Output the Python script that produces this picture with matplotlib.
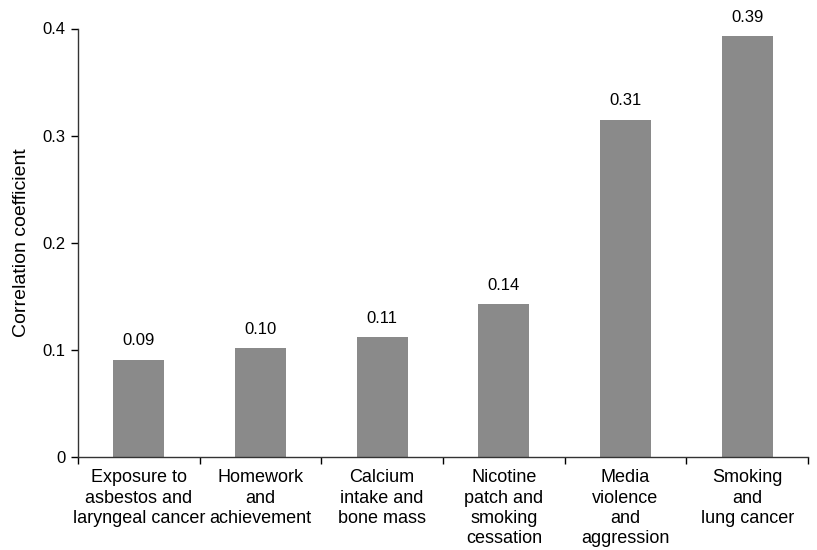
import numpy as np
import matplotlib.pyplot as plt

plt.rcParams["font.family"] = ["Liberation Sans", "DejaVu Sans"]
plt.rcParams["font.size"] = 12

kategorie = [
    "Exposure to\nasbestos and\nlaryngeal cancer",
    "Homework\nand\nachievement",
    "Calcium\nintake and\nbone mass",
    "Nicotine\npatch and\nsmoking\ncessation",
    "Media\nviolence\nand\naggression",
    "Smoking\nand\nlung cancer",
]
wartosci = [0.091, 0.102, 0.112, 0.143, 0.315, 0.393]
etykiety = ["0.09", "0.10", "0.11", "0.14", "0.31", "0.39"]
yticki = [0, 0.1, 0.2, 0.3, 0.4]
ytick_etykiety = ["0", "0.1", "0.2", "0.3", "0.4"]

fig = plt.figure(figsize=(8.17, 5.5), dpi=100)
ax = fig.add_axes([78 / 817, 1 - 457 / 550, (808 - 78) / 817, (457 - 28.5) / 550])

x = np.arange(len(kategorie))
slupki = ax.bar(x, wartosci, width=0.42, color="#8a8a8a", edgecolor="none", zorder=2)

for xi, h, lab in zip(x, wartosci, etykiety):
    ax.annotate(lab, (xi, h), xytext=(0, 8), textcoords="offset points",
                ha="center", va="bottom", fontsize=12, annotation_clip=False)

ax.set_xlim(-0.5, len(kategorie) - 0.5)
ax.set_ylim(0, 0.4)

ax.set_yticks(yticki)
ax.set_yticklabels(ytick_etykiety)
ax.set_ylabel("Correlation coefficient", fontsize=14, labelpad=9)

# separator ticks between categories, labels centered in each category
ax.set_xticks(np.arange(len(kategorie) + 1) - 0.5)
ax.set_xticklabels([])
ax.set_xticks(x, minor=True)
ax.set_xticklabels(kategorie, minor=True, multialignment="center", fontsize=13,
                   linespacing=1.24)
ax.tick_params(axis="x", which="minor", length=0, pad=9)
ax.tick_params(axis="x", which="major", length=5, width=1, direction="out")
ax.tick_params(axis="y", length=5, width=1, direction="out", pad=4)

for s in ["top", "right"]:
    ax.spines[s].set_visible(False)
for s in ["left", "bottom"]:
    ax.spines[s].set_color("#333333")
    ax.spines[s].set_linewidth(1)

fig.savefig("out.png", dpi=100)
